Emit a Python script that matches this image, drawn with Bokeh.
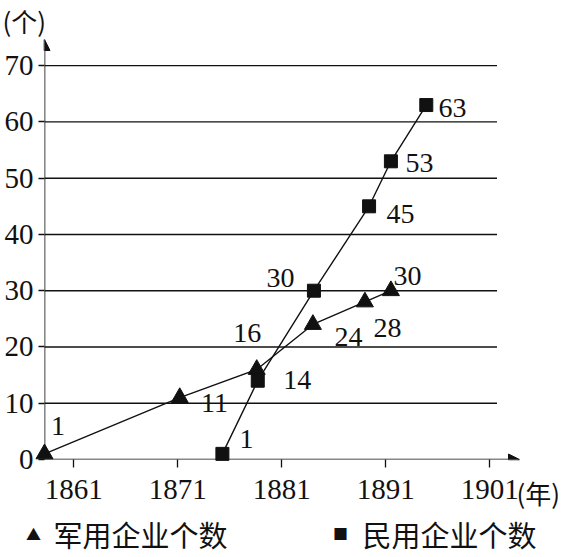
from bokeh.plotting import figure
from bokeh.models import (ColumnDataSource, Range1d, FixedTicker, Arrow, NormalHead, LabelSet)
from bokeh.core.properties import value
from bokeh.embed import file_html
from bokeh.resources import INLINE

# ---- data ----
military_years = [1858.2, 1871.2, 1878.6, 1884.0, 1889.0, 1891.5]
military_counts = [1, 11, 16, 24, 28, 30]
civil_years = [1875.3, 1878.7, 1884.1, 1889.4, 1891.5, 1894.9]
civil_counts = [1, 14, 30, 45, 53, 63]
year_ticks = [1861, 1871, 1881, 1891, 1901]
count_ticks = [0, 10, 20, 30, 40, 50, 60, 70]
grid_counts = [10, 20, 30, 40, 50, 60, 70]
series_names = ["军用企业个数", "民用企业个数"]
series_symbols = ["▲", "■"]
y_unit = "(个)"
x_unit = "(年)"

# label placement offsets (pixels: dx right, dy up)
mil_dx = [13.5, 34.8, -9.5, 35.7, 22.7, 16.7]
mil_dy = [27.7, -5.6, 36.5, -12.8, -26.3, 14.4]
civ_dx = [24.2, 39.5, -33.4, 31.5, 28.7, 26.3]
civ_dy = [14.7, 0.5, 12.4, -8.0, -2.1, -3.4]

X0, X1 = 1858.2, 1903.86
Y0, Y1 = 0, 74.65
INK = "#111111"
SERIF = "Liberation Serif, Times New Roman, DejaVu Serif, serif"
CJK = "Noto Sans CJK SC"

p = figure(width=566, height=557, output_backend="svg", toolbar_location=None,
           x_range=Range1d(X0, X1), y_range=Range1d(Y0, Y1),
           min_border_left=44, min_border_right=47, min_border_top=39, min_border_bottom=98)
p.outline_line_color = None
p.xgrid.visible = False
p.ygrid.visible = False
p.background_fill_color = "white"
p.border_fill_color = "white"

# horizontal grid lines (stop short of the arrow)
p.segment(x0=[X0] * len(grid_counts), x1=[1901.7] * len(grid_counts),
          y0=grid_counts, y1=grid_counts, line_color=INK, line_width=1.4)

mil = ColumnDataSource(dict(x=military_years, y=military_counts,
                            t=[str(v) for v in military_counts], dx=mil_dx, dy=mil_dy))
civ = ColumnDataSource(dict(x=civil_years, y=civil_counts,
                            t=[str(v) for v in civil_counts], dx=civ_dx, dy=civ_dy))

p.line("x", "y", source=mil, line_color=INK, line_width=1.4)
p.line("x", "y", source=civ, line_color=INK, line_width=1.4)
p.scatter("x", "y", source=mil, marker="triangle", size=17,
          fill_color=INK, line_color=INK, level="overlay")
p.scatter("x", "y", source=civ, marker="square", size=13,
          fill_color=INK, line_color=INK, level="overlay")

for src in (mil, civ):
    p.add_layout(LabelSet(x="x", y="y", text="t", source=src, x_offset="dx", y_offset="dy",
                          text_align="center", text_baseline="middle",
                          text_font=value(SERIF), text_font_size="28px", text_color=INK))

# axes: ticks and labels from bokeh, axis lines as arrows
for ax in (p.xaxis[0], p.yaxis[0]):
    ax.axis_line_alpha = 0
    ax.major_tick_in = 0
    ax.minor_tick_line_color = None
    ax.major_tick_line_color = INK
    ax.major_tick_line_width = 1.3
    ax.major_label_text_font = SERIF
    ax.major_label_text_font_size = "29px"
    ax.major_label_text_color = INK
p.xaxis[0].ticker = FixedTicker(ticks=year_ticks)
p.xaxis[0].major_tick_out = 8
p.xaxis[0].major_label_standoff = 12
p.yaxis[0].ticker = FixedTicker(ticks=count_ticks)
p.yaxis[0].major_tick_out = 6
p.yaxis[0].major_label_standoff = 5

p.add_layout(Arrow(x_start=X0 - 0.2, y_start=0, x_end=X1, y_end=0,
                   line_color=INK, line_width=1.6,
                   end=NormalHead(size=11, fill_color=INK, line_color=INK)))
p.add_layout(Arrow(x_start=X0, y_start=-1.45, x_end=X0, y_end=Y1,
                   line_color=INK, line_width=1.6,
                   end=NormalHead(size=11, fill_color=INK, line_color=INK)))

# axis units
p.text(x=[X0], y=[Y1], text=[y_unit], x_offset=-42, y_offset=-19,
       text_font=value(CJK), text_font_size="26px", text_color=INK,
       text_align="left", text_baseline="middle", level="overlay")
p.text(x=[X1], y=[0], text=[x_unit], x_offset=-3, y_offset=33,
       text_font=value(CJK), text_font_size="26px", text_color=INK,
       text_align="left", text_baseline="middle", level="overlay")

# legend row under the chart (symbols + series names), anchored to the axis origin
p.text(x=[X0, X0], y=[0, 0], text=series_symbols, x_offset=[-11, 296], y_offset=[74, 74],
       text_font=value(CJK), text_font_size="15px", text_color=INK,
       text_align="center", text_baseline="middle", level="overlay")
p.text(x=[X0, X0], y=[0, 0], text=series_names, x_offset=[9, 318], y_offset=[74, 74],
       text_font=value(CJK), text_font_size="29px", text_color=INK,
       text_align="left", text_baseline="middle", level="overlay")

open("out.html", "w").write(file_html(p, INLINE))
